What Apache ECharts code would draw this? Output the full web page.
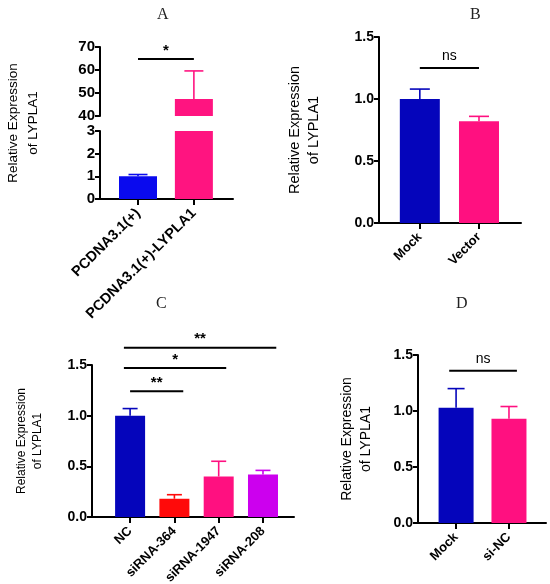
<!DOCTYPE html>
<html>
<head>
<meta charset="utf-8">
<script src="https://cdn.jsdelivr.net/npm/echarts@6/dist/echarts.min.js"></script>
<style>
  html, body { margin: 0; padding: 0; background: #fff; }
  #chart { width: 550px; height: 584px; }
</style>
</head>
<body>
<div id="chart"></div>
<script>
// panel A
var catsA = ['PCDNA3.1(+)', 'PCDNA3.1(+)-LYPLA1'];
var meanA = [1.0, 47.4];
var errA = [1.08, 59.6];
var sigA = [[0, 1, 64.8]];
var sigTextA = ['*'];
// panel B
var catsB = ['Mock', 'Vector'];
var meanB = [1.0, 0.82];
var errB = [1.08, 0.86];
var sigB = [[0, 1, 1.25]];
var sigTextB = ['ns'];
// panel C
var catsC = ['NC', 'siRNA-364', 'siRNA-1947', 'siRNA-208'];
var meanC = [1.0, 0.18, 0.40, 0.42];
var errC = [1.07, 0.22, 0.55, 0.46];
var sigC = [[0, 1.2, 1.24], [-0.14, 2.17, 1.47], [-0.14, 3.3, 1.67]];
var sigTextC = ['**', '*', '**'];
// panel D
var catsD = ['Mock', 'si-NC'];
var meanD = [1.03, 0.93];
var errD = [1.20, 1.04];
var sigD = [[-0.13, 1.15, 1.36]];
var sigTextD = ['ns'];

var FONT = 'Liberation Sans, Arial, sans-serif';
var YNAME = 'Relative Expression\nof LYPLA1';
var colorsA = ['#0a0aee', '#ff1480'];
var colorsB = ['#0505bb', '#ff1080'];
var colorsC = ['#0505bb', '#ff0a0a', '#ff1080', '#cc00ee'];
var colorsD = ['#0505bb', '#ff1080'];

var grids = [], xAxes = [], yAxes = [], series = [];

function addGrid(box) {
    box.outerBoundsMode = 'none';
    box.containLabel = false;
    grids.push(box);
    return grids.length - 1;
}

function addX(gi, cats, min, max, show, fs) {
    var idx = cats.map(function (c, i) { return i; });
    xAxes.push({
        gridIndex: gi, type: 'value', min: min, max: max, show: show,
        splitLine: { show: false },
        axisLine: { show: true, onZero: false, lineStyle: { color: '#000', width: 2 } },
        axisTick: { show: true, customValues: idx, length: 6, lineStyle: { color: '#000', width: 2 } },
        axisLabel: {
            customValues: idx, rotate: 45, margin: 12,
            color: '#000', fontFamily: FONT, fontWeight: 'bold', fontSize: fs || 13,
            formatter: function (v) { return cats[Math.round(v)]; }
        }
    });
    return xAxes.length - 1;
}

function addY(gi, min, max, interval, digits, name, gap, nameSize, lh, fs) {
    yAxes.push({
        gridIndex: gi, type: 'value', min: min, max: max, interval: interval,
        name: name || '', nameLocation: 'middle', nameRotate: 90, nameGap: gap || 0,
        nameTextStyle: { color: '#000', fontFamily: FONT, fontSize: nameSize || 13, lineHeight: lh || 19 },
        splitLine: { show: false },
        axisLine: { show: true, onZero: false, lineStyle: { color: '#000', width: 2 } },
        axisTick: { show: true, length: 5, lineStyle: { color: '#000', width: 2 } },
        axisLabel: {
            color: '#000', fontFamily: FONT, fontWeight: 'bold', fontSize: fs || 14, margin: 5,
            formatter: function (v) { return v.toFixed(digits); }
        }
    });
    return yAxes.length - 1;
}

function addBars(ax, means, colors, barW) {
    series.push({
        type: 'bar', xAxisIndex: ax, yAxisIndex: ax, barWidth: barW, clip: true,
        data: means.map(function (m, i) {
            return { value: [i, m], itemStyle: { color: colors[i] } };
        })
    });
}

function addErrors(ax, means, errs, colors, capW) {
    series.push({
        type: 'custom', xAxisIndex: ax, yAxisIndex: ax, clip: true,
        data: means.map(function (m, i) { return [i, m, errs[i]]; }),
        encode: { x: 0, y: [1, 2] },
        renderItem: function (params, api) {
            var p0 = api.coord([api.value(0), api.value(1)]);
            var p1 = api.coord([api.value(0), api.value(2)]);
            var st = { stroke: colors[params.dataIndex], lineWidth: 1.6 };
            return {
                type: 'group', children: [
                    { type: 'line', shape: { x1: p0[0], y1: p0[1], x2: p1[0], y2: p1[1] }, style: st },
                    { type: 'line', shape: { x1: p1[0] - capW / 2, y1: p1[1], x2: p1[0] + capW / 2, y2: p1[1] }, style: st }
                ]
            };
        }
    });
}

function addSig(ax, sig, texts) {
    series.push({
        type: 'custom', xAxisIndex: ax, yAxisIndex: ax, clip: false,
        data: sig,
        encode: { x: [0, 1], y: 2 },
        renderItem: function (params, api) {
            var p1 = api.coord([api.value(0), api.value(2)]);
            var p2 = api.coord([api.value(1), api.value(2)]);
            var t = texts[params.dataIndex];
            var star = t.indexOf('*') >= 0;
            return {
                type: 'group', children: [
                    { type: 'line', shape: { x1: p1[0], y1: p1[1], x2: p2[0], y2: p1[1] }, style: { stroke: '#000', lineWidth: 2 } },
                    { type: 'text', style: {
                        x: (p1[0] + p2[0]) / 2, y: p1[1] - (star ? 1 : 5), text: t,
                        align: 'center', verticalAlign: 'bottom',
                        fill: '#000', fontFamily: FONT, fontSize: star ? 15 : 14,
                        fontWeight: star ? 'bold' : 'normal'
                    } }
                ]
            };
        }
    });
}

// A: broken axis, upper and lower parts
var gAu = addGrid({ left: 100, top: 47, width: 133, height: 69 });
var xAu = addX(gAu, catsA, -0.68, 1.70, false);
addY(gAu, 40, 70, 10, 0, '', 0, 13, 19, 15);
var gAl = addGrid({ left: 100, top: 131, width: 133, height: 68 });
var xAl = addX(gAl, catsA, -0.68, 1.70, true, 14.5);
addY(gAl, 0, 3, 1, 0, '', 0, 13, 19, 15);
addBars(xAu, meanA, colorsA, 38);
addErrors(xAu, meanA, errA, colorsA, 19);
addSig(xAu, sigA, sigTextA);
addBars(xAl, meanA, colorsA, 38);
addErrors(xAl, meanA, errA, colorsA, 19);

// B
var gB = addGrid({ left: 379, top: 37, width: 142, height: 186 });
var xB = addX(gB, catsB, -0.69, 1.71, true);
addY(gB, 0, 1.5, 0.5, 1, YNAME, 56, 14.5, 19);
addBars(xB, meanB, colorsB, 40);
addErrors(xB, meanB, errB, colorsB, 20);
addSig(xB, sigB, sigTextB);

// C
var gC = addGrid({ left: 92, top: 365, width: 202, height: 152 });
var xC = addX(gC, catsC, -0.86, 3.70, true);
addY(gC, 0, 1.5, 0.5, 1, YNAME, 46, 12, 16);
addBars(xC, meanC, colorsC, 30);
addErrors(xC, meanC, errC, colorsC, 15);
addSig(xC, sigC, sigTextC);

// D
var gD = addGrid({ left: 418, top: 355, width: 128, height: 168 });
var xD = addX(gD, catsD, -0.72, 1.70, true);
addY(gD, 0, 1.5, 0.5, 1, YNAME, 42, 14, 19);
addBars(xD, meanD, colorsD, 35);
addErrors(xD, meanD, errD, colorsD, 17);
addSig(xD, sigD, sigTextD);

var titleStyle = { color: '#222', fontFamily: 'Liberation Serif, Times New Roman, serif', fontSize: 16, fontWeight: 'normal' };

var chart = echarts.init(document.getElementById('chart'));
chart.setOption({
    animation: false,
    backgroundColor: '#fff',
    title: [
        { text: 'A', left: 152, top: 2, textStyle: titleStyle },
        { text: 'B', left: 465, top: 2, textStyle: titleStyle },
        { text: 'C', left: 151, top: 291, textStyle: titleStyle },
        { text: 'D', left: 451, top: 291, textStyle: titleStyle }
    ],
    graphic: [{
        type: 'text', x: 23, y: 123, rotation: Math.PI / 2,
        style: {
            text: YNAME, align: 'center', verticalAlign: 'middle',
            fill: '#000', fontFamily: FONT, fontSize: 13.5, lineHeight: 20
        }
    }],
    grid: grids,
    xAxis: xAxes,
    yAxis: yAxes,
    series: series
});

window.onresize = chart.resize;
</script>
</body>
</html>
